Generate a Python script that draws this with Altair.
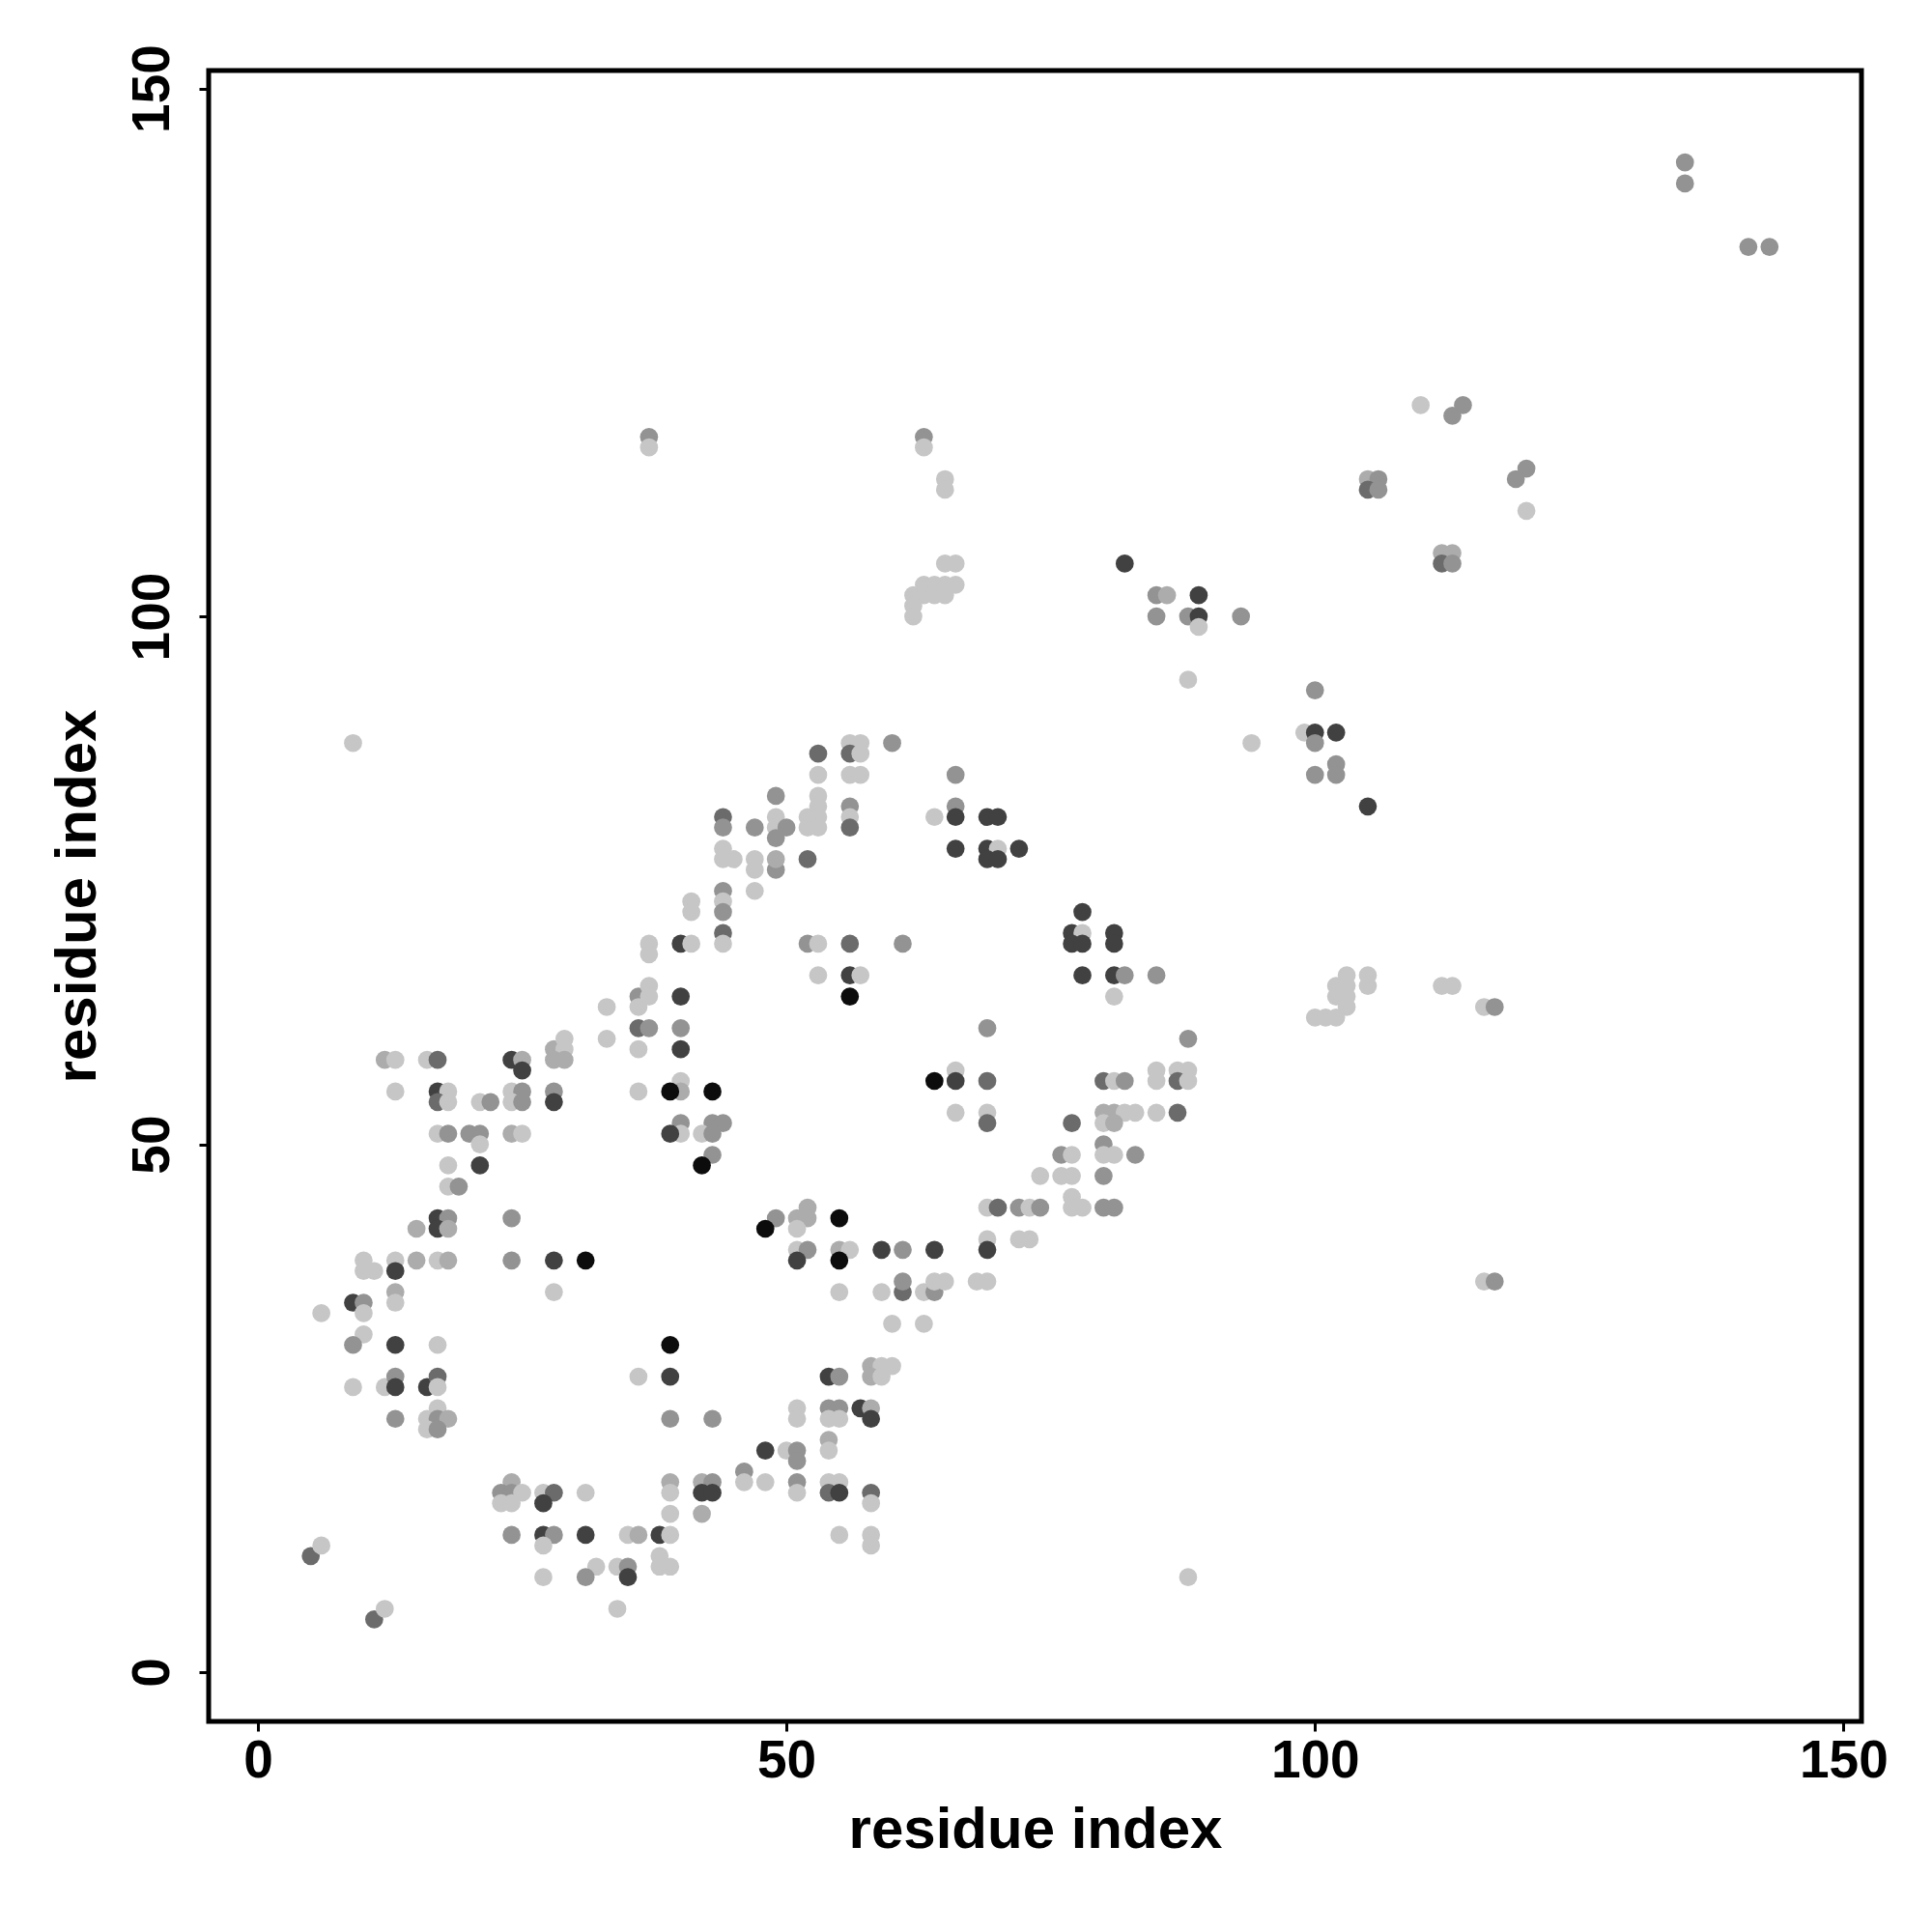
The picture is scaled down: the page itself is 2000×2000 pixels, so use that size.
import altair as alt
import pandas as pd

# residue-residue contacts: x index, y index, grey level (1 = lightest ... 6 = darkest)
x_a = [5,6,11,12,6,9,10,10,13,13,10,9,13,17,36,9,12,13,13,16,17,17,13,17,16,17,18,16,17,24,23,24,25,23,24,27,28,27,31,24,27,28,27,31,35,36,38,38,38,39,32,31,34,35,35,27,34,28]
y_a = [11,12,5,6,34,35,35,34,36,35,32,31,31,31,28,27,27,28,27,27,28,27,24,25,24,24,24,23,23,18,17,17,17,16,16,17,17,16,17,13,13,13,12,13,13,13,13,11,10,10,10,9,10,10,9,9,6,36]
l_a = [4,1,4,1,1,5,3,1,2,1,1,3,5,1,1,1,1,3,5,5,4,1,3,1,1,3,2,1,3,2,3,3,1,1,1,1,4,5,1,3,5,3,1,5,1,2,5,1,1,1,1,3,1,3,5,1,1,1]

x_b = [39,39,39,43,39,39,42,43,42,43,39,42,39,46,46,48,48,50,51,51,51,51,54,54,51,51,54,55,54,55,57,58,58,54,55,58,59,60,58,59,54,55,54,55,58,58,55,58,58,55,59,61,63,64,60,63,61,64,65,68,69,88]
y_b = [31,28,24,24,18,17,18,18,17,17,15,15,13,19,18,18,21,21,21,20,18,17,22,21,25,24,25,25,24,24,25,25,24,28,28,29,29,29,28,28,18,18,17,17,17,16,13,13,12,36,36,36,36,36,33,33,37,37,37,37,37,9]
l_b = [6,5,3,3,2,1,2,3,5,5,1,2,1,3,1,1,5,1,3,3,3,1,2,1,1,1,3,3,1,1,5,2,5,5,3,2,1,1,2,1,1,1,4,5,4,1,1,1,1,1,1,4,1,3,1,1,3,1,1,1,1,1]

x_d = [10,10,11,13,13,15,17,18,24,28,31,15,17,18,17,18,24,18,21,18,19,17,18,20,21,21,24,25,13,17,18,17,18,21,22,24,25,24,25,28,28,12,13,16,17,24,25,25,28,29,29,28,29,33,33,36,36,37,37,36,37,36,37,37,36]
y_d = [39,38,38,39,38,39,39,39,39,39,39,42,43,43,42,42,43,48,48,46,46,51,51,51,51,50,51,51,55,55,55,54,54,54,54,55,55,54,54,55,54,58,58,58,58,58,58,57,59,60,59,58,58,63,60,64,63,65,64,61,61,59,69,68,55]
l_d = [1,1,1,1,5,2,1,2,3,5,6,2,5,3,5,2,3,1,5,1,3,1,3,3,3,1,2,1,1,5,1,4,1,1,3,1,3,1,3,3,5,2,1,1,4,5,2,5,2,1,1,2,2,1,1,3,1,1,1,4,3,1,1,1,1]

x_e = [47,49,47,44,44,44,44,44,41,41,40,41,52,53,56,61,53,56,57,56,40,40,40,40,40,39,43,40,40,39,43,44,42,43,43,42,64,66,66,69,69,66,69,69,78,77,78,77,78,78,77,76,77,74,76,77,77,77,78,69,70,72,73,74,72,73,69,69,64,61,59,55,56,55,51,52,51,52,49,48,51,52,51,55]
y_e = [76,76,74,74,73,72,70,69,73,72,69,69,69,69,69,69,66,66,66,64,64,61,59,56,55,55,55,52,51,51,52,52,51,51,49,48,56,57,56,56,61,53,53,52,72,70,70,69,69,66,52,49,49,47,47,47,45,44,44,44,44,44,44,44,41,41,41,40,40,40,40,40,40,39,40,40,39,44,43,42,43,43,42,43]
l_e = [1,3,1,3,1,3,4,1,1,1,5,1,3,1,4,3,1,5,1,6,5,3,5,1,2,6,6,3,1,5,3,3,1,3,3,6,6,1,5,4,3,1,1,4,5,5,1,5,5,5,4,3,1,1,1,1,1,1,1,1,4,3,1,3,1,1,1,5,5,3,5,2,1,6,1,3,5,2,3,6,2,2,1,6]

x_f = [81,81,81,82,85,81,88,80,81,82,85,85,87,88,87,88,80,81,82,83,80,81,85,87,80,80,81,83,80,80,81,103,105,105,102,103,102,103,103,100,101,102,112,113,116,117,116,117]
y_f = [70,69,66,66,66,64,60,56,56,56,57,56,57,57,56,56,53,53,53,53,52,52,53,53,50,49,49,49,47,44,44,66,66,65,65,65,64,64,63,62,62,62,65,65,63,63,37,37]
l_f = [5,5,5,3,3,1,3,4,1,3,1,1,1,1,4,1,2,2,1,1,1,2,1,4,3,1,1,3,3,3,3,1,1,1,1,1,1,1,1,1,1,1,1,1,1,3,1,3]

x_g = [37,37,9]
y_g = [117,116,88]
l_g = [3,1,1]

x_h = [63,63,65,65,65,66,63,64,65,66,62,63,64,65,62,62,60,56,57,56,57,53,53,56,57,66,49,53,53,52,53,52,53,56,56,56,49,49,50,49,44,44,47,44,44,45,47,49,52,64,66,66,69,70,66,69,70,72,69,70]
y_h = [117,116,113,112,105,105,103,103,103,103,102,102,102,102,101,100,88,88,88,87,87,87,85,85,85,85,83,83,82,81,81,80,80,82,81,80,81,80,80,79,81,80,80,78,77,77,77,77,77,81,82,81,81,81,78,78,78,78,77,77]
l_h = [3,1,1,1,1,1,1,1,1,1,1,1,1,1,1,1,3,1,1,4,1,4,1,1,1,3,3,1,1,1,1,1,1,3,1,4,1,1,3,3,4,3,3,1,1,1,1,2,4,1,3,5,5,5,5,5,1,5,5,5]

x_i = [105,106,105,106,112,113,112,113,82,85,86,89,85,88,89,89,93,88,94,100,99,100,102,100,102,100,102,105]
y_i = [113,113,112,112,106,106,105,105,105,102,102,102,100,100,100,99,100,94,88,93,89,89,89,88,86,85,85,82]
l_i = [2,3,4,3,2,2,4,3,5,3,2,5,3,3,5,1,3,1,1,3,1,5,5,3,3,3,3,5]

x_j = [135,135,141,143,110,114,113,120,119,120]
y_j = [143,141,135,135,120,120,119,114,113,110]
l_j = [3,3,3,3,1,3,3,3,3,1]

grey_levels = [1, 2, 3, 4, 5, 6]
grey_colors = ["#c6c6c6", "#acacac", "#939393", "#6b6b6b", "#414141", "#0c0c0c"]

xs = x_a + x_b + x_d + x_e + x_f + x_g + x_h + x_i + x_j
ys = y_a + y_b + y_d + y_e + y_f + y_g + y_h + y_i + y_j
ls = l_a + l_b + l_d + l_e + l_f + l_g + l_h + l_i + l_j

df = pd.DataFrame({"i": xs, "j": ys, "level": ls})

FONT = "Liberation Sans"
dom = [-4.66, 151.7]

chart = alt.Chart(df).mark_circle(size=350, opacity=1).encode(
    x=alt.X("i:Q", scale=alt.Scale(domain=dom, nice=False, zero=False),
            axis=alt.Axis(values=[0, 50, 100, 150], domain=False, grid=False,
                          tickSize=10, tickWidth=3, tickColor="black",
                          labelFont=FONT, labelFontSize=55, labelFontWeight="bold",
                          labelColor="black", labelBaseline="alphabetic", labelPadding=47,
                          labelOverlap=False, labelAlign="center",
                          title="residue index", titleFont=FONT, titleFontSize=60,
                          titleFontWeight="bold", titleColor="black",
                          titleBaseline="alphabetic", titleY=130)),
    y=alt.Y("j:Q", scale=alt.Scale(domain=dom, nice=False, zero=False),
            axis=alt.Axis(values=[0, 50, 100, 150], domain=False, grid=False,
                          tickSize=10, tickWidth=3, tickColor="black",
                          labelFont=FONT, labelFontSize=55, labelFontWeight="bold",
                          labelColor="black", labelAngle=-90, labelAlign="center",
                          labelBaseline="alphabetic", labelPadding=32, labelOverlap=False,
                          title="residue index", titleFont=FONT, titleFontSize=60,
                          titleFontWeight="bold", titleColor="black",
                          titleBaseline="alphabetic", titleAlign="center",
                          titleX=-118, titleY=854.5)),
    color=alt.Color("level:O", scale=alt.Scale(domain=grey_levels, range=grey_colors), legend=None),
).properties(
    width=1711, height=1709,
    background="white",
    autosize=alt.AutoSizeParams(type="none"),
    padding={"left": 208, "top": 65, "right": 60, "bottom": 220},
).configure_view(stroke="black", strokeWidth=5, fill="white")

chart.save("out.html", embed_options={"renderer": "svg", "actions": False})
